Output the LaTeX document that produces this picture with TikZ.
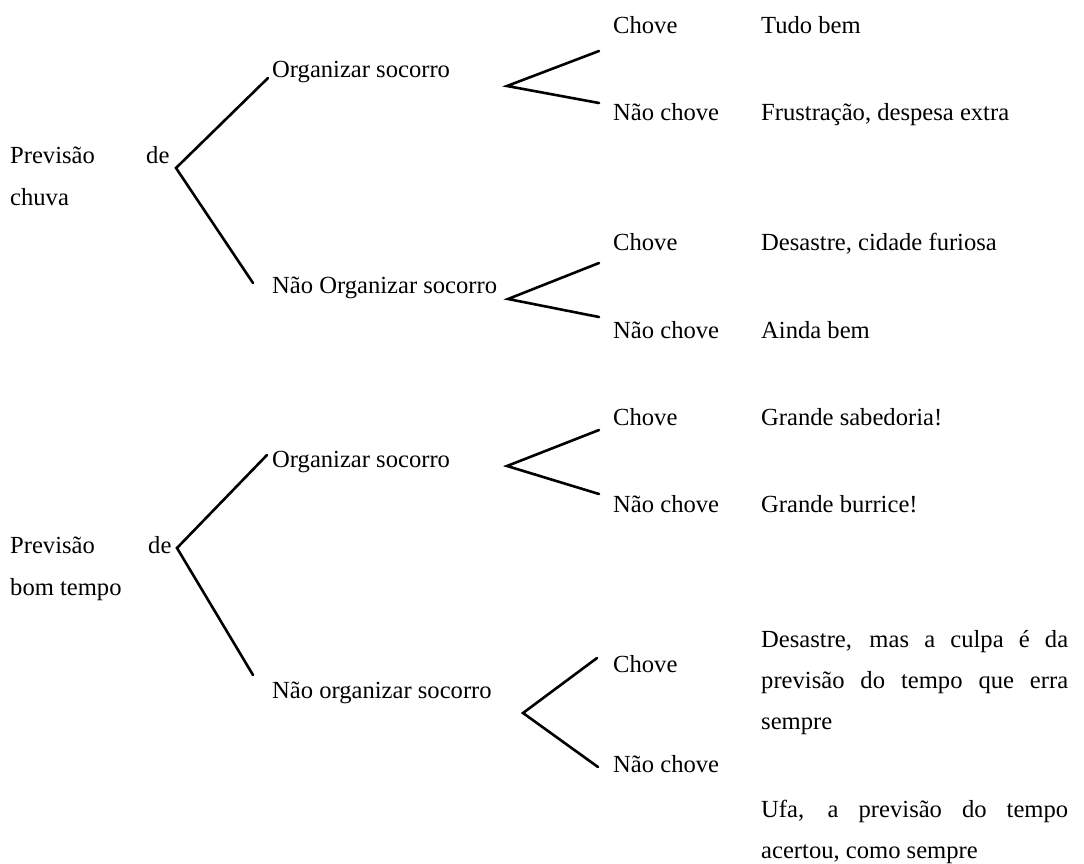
\documentclass[tikz,border=0pt]{standalone}
\usepackage{fontspec}
\setmainfont{Liberation Serif}
\begin{document}
\begin{tikzpicture}[x=1pt,y=-1pt,
  lbl/.style={anchor=base west, inner sep=0pt, font=\fontsize{24.6}{41}\selectfont},
  branch/.style={line width=2.6pt, line cap=round, line join=miter}]
\useasboundingbox (0,0) rectangle (1084,863);

% ---------- forecast: rain ----------
\node[lbl] (p1a) at (10,163) {Previsão};
\node[lbl] (p1de) at (146,163) {de};
\node[lbl] (p1b) at (10,205) {chuva};
\node[lbl] (o1) at (272,77) {Organizar socorro};
\node[lbl] (n1) at (272,293) {Não Organizar socorro};

\node[lbl] (c11) at (613,33) {Chove};
\node[lbl] (r11) at (761,33) {Tudo bem};
\node[lbl] (c12) at (613,120) {Não chove};
\node[lbl] (r12) at (761,120) {Frustração, despesa extra};
\node[lbl] (c21) at (613,250) {Chove};
\node[lbl] (r21) at (761,250) {Desastre, cidade furiosa};
\node[lbl] (c22) at (613,338) {Não chove};
\node[lbl] (r22) at (761,338) {Ainda bem};

% ---------- forecast: fair weather ----------
\node[lbl] (p2a) at (10,553) {Previsão};
\node[lbl] (p2de) at (148,553) {de};
\node[lbl] (p2b) at (10,595) {bom tempo};
\node[lbl] (o2) at (272,467) {Organizar socorro};
\node[lbl] (n2) at (272,698) {Não organizar socorro};

\node[lbl] (c31) at (613,425) {Chove};
\node[lbl] (r31) at (761,425) {Grande sabedoria!};
\node[lbl] (c32) at (613,512) {Não chove};
\node[lbl] (r32) at (761,512) {Grande burrice!};
\node[lbl] (c41) at (613,672) {Chove};
\node[lbl] (c42) at (613,772) {Não chove};

\node[lbl] (r41a) at (761,647) {\makebox[307pt][s]{Desastre, mas a culpa é da}};
\node[lbl] (r41b) at (761,688) {\makebox[307pt][s]{previsão do tempo que erra}};
\node[lbl] (r41c) at (761,729) {sempre};
\node[lbl] (r42a) at (761,817) {\makebox[307pt][s]{Ufa, a previsão do tempo}};
\node[lbl] (r42b) at (761,858) {acertou, como sempre};

% ---------- branch points ----------
\coordinate (t1) at (176,168);
\coordinate (t1u) at (268,78);
\coordinate (t1l) at (253,283);
\coordinate (f1) at (507,86);
\coordinate (f1u) at (599,51);
\coordinate (f1l) at (599,103);
\coordinate (f2) at (508,299);
\coordinate (f2u) at (599,263);
\coordinate (f2l) at (599,317);

\coordinate (t2) at (177,548);
\coordinate (t2u) at (267,455);
\coordinate (t2l) at (253,675);
\coordinate (f3) at (507,466);
\coordinate (f3u) at (599,430);
\coordinate (f3l) at (599,494);
\coordinate (f4) at (523,713);
\coordinate (f4u) at (597,658);
\coordinate (f4l) at (598,767);

% ---------- branches ----------
\draw[branch] (t1u) -- (t1) -- (t1l);
\draw[branch] (f1u) -- (f1) -- (f1l);
\draw[branch] (f2u) -- (f2) -- (f2l);
\draw[branch] (t2u) -- (t2) -- (t2l);
\draw[branch] (f3u) -- (f3) -- (f3l);
\draw[branch] (f4u) -- (f4) -- (f4l);
\end{tikzpicture}
\end{document}
